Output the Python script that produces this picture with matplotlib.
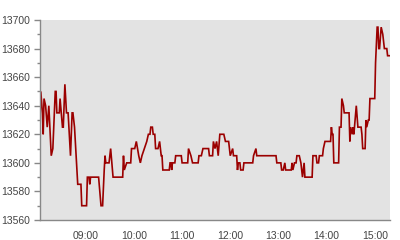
import matplotlib
matplotlib.use("Agg")
import matplotlib.pyplot as plt
import matplotlib.dates as mdates
from matplotlib.ticker import MultipleLocator
import pandas as pd

times = ["08:03","08:04","08:06","08:07","08:08","08:10","08:12","08:14","08:17","08:19",
         "08:22","08:23","08:24","08:27","08:28","08:31","08:32","08:34","08:36","08:38",
         "08:41","08:43","08:44","08:46","08:50","08:54","08:55","09:01","09:02","09:04",
         "09:05","09:06","09:16","09:19","09:21","09:23","09:24","09:25","09:29","09:31",
         "09:34","09:46","09:47","09:48","09:51","09:56","09:57","10:01","10:03","10:06",
         "10:08","10:10","10:13","10:16","10:18","10:20","10:21","10:23","10:24","10:26",
         "10:27","10:30","10:32","10:34","10:35","10:36","10:44","10:45","10:46","10:47",
         "10:48","10:51","10:52","10:59","11:00","11:07","11:08","11:11","11:13","11:20",
         "11:21","11:24","11:26","11:33","11:34","11:38","11:39","11:41","11:43","11:45",
         "11:47","11:52","11:54","11:58","12:00","12:03","12:04","12:08","12:09","12:10",
         "12:12","12:13","12:16","12:17","12:28","12:29","12:32","12:33","12:57","12:58",
         "13:03","13:04","13:06","13:08","13:09","13:16","13:17","13:18","13:20","13:22",
         "13:23","13:26","13:28","13:30","13:32","13:33","13:42","13:43","13:47","13:48",
         "13:50","13:51","13:55","13:56","13:58","14:05","14:06","14:07","14:08","14:09",
         "14:15","14:16","14:18","14:19","14:21","14:22","14:28","14:29","14:30","14:32",
         "14:33","14:34","14:37","14:39","14:43","14:44","14:45","14:48","14:49","14:50",
         "14:52","14:53","14:54","15:00","15:01","15:03","15:04","15:05","15:06","15:08",
         "15:10","15:12","15:15","15:16","15:19"]
prices = [13630,13650,13635,13620,13645,13640,13625,13640,13605,13610,
          13650,13650,13635,13635,13645,13625,13625,13655,13635,13635,
          13605,13635,13635,13625,13585,13585,13570,13570,13590,13590,
          13585,13590,13590,13570,13570,13595,13605,13600,13600,13610,
          13590,13590,13605,13595,13600,13600,13610,13610,13615,13605,
          13600,13605,13610,13615,13620,13620,13625,13625,13620,13620,
          13610,13610,13615,13605,13605,13595,13595,13600,13600,13595,
          13600,13600,13605,13605,13600,13600,13610,13605,13600,13600,
          13605,13605,13610,13610,13605,13605,13615,13610,13615,13605,
          13620,13620,13615,13615,13605,13610,13605,13605,13595,13600,
          13600,13595,13595,13600,13600,13605,13610,13605,13605,13600,
          13600,13595,13595,13600,13595,13595,13600,13595,13600,13600,
          13605,13605,13600,13590,13600,13590,13590,13605,13605,13600,
          13600,13605,13605,13610,13615,13615,13625,13620,13620,13600,
          13600,13625,13625,13645,13640,13635,13635,13615,13625,13620,
          13625,13620,13640,13625,13625,13620,13610,13610,13630,13625,
          13630,13630,13645,13645,13670,13695,13695,13680,13680,13695,
          13690,13680,13680,13675,13675]

y_min, y_max = 13560, 13700

dt = pd.to_datetime(["2020-01-02 " + t for t in times])

fig = plt.figure(figsize=(4, 2.4), dpi=100)
ax = fig.add_axes([0.1, 0.0833, 0.875, 0.8334])
ax.set_facecolor("#e3e3e3")
ax.plot(dt, prices, color="#9b0000", lw=1.2, solid_joinstyle="miter")

ax.set_xlim(dt[0], dt[-1])
ax.set_ylim(y_min, y_max)
ax.yaxis.set_major_locator(MultipleLocator(20))
ax.yaxis.set_minor_locator(MultipleLocator(10))
ax.xaxis.set_major_locator(mdates.HourLocator())
ax.xaxis.set_major_formatter(mdates.DateFormatter("%H:%M"))

for s in ["top", "right"]:
    ax.spines[s].set_visible(False)
for s in ["left", "bottom"]:
    ax.spines[s].set_color("#888888")
    ax.spines[s].set_linewidth(1.0)

ax.tick_params(axis="y", which="major", length=4, width=1, color="#888888",
               labelsize=7.5, labelcolor="#444444", pad=3)
ax.tick_params(axis="y", which="minor", length=2.5, width=1, color="#888888")
ax.tick_params(axis="x", which="major", length=0, labelsize=7.5,
               labelcolor="#444444", pad=8)
for lab in ax.get_xticklabels() + ax.get_yticklabels():
    lab.set_family("Liberation Sans")

fig.savefig("out.png", dpi=100)
